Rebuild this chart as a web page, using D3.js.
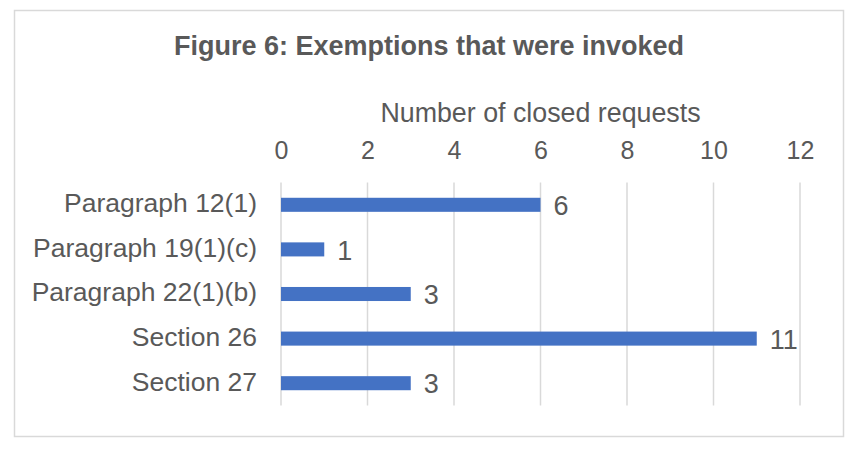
<!DOCTYPE html>
<html>
<head>
<meta charset="utf-8">
<script src="https://cdn.jsdelivr.net/npm/d3@7"></script>
<style>
  body { margin: 0; background: #fff; }
  svg { display: block; font-family: "Liberation Sans", Arial, sans-serif; }
</style>
</head>
<body>
<script>
const categories = ["Paragraph 12(1)", "Paragraph 19(1)(c)", "Paragraph 22(1)(b)", "Section 26", "Section 27"];
const closedRequests = [6, 1, 3, 11, 3];
const xTicks = [0, 2, 4, 6, 8, 10, 12];

const W = 856, H = 450;
const plot = { left: 281, right: 800, top: 182.5, bottom: 405.5 };
const textColor = "#595959";

const svg = d3.select("body").append("svg")
  .attr("width", W)
  .attr("height", H);

// chart area border
svg.append("rect")
  .attr("x", 14.5).attr("y", 10.5)
  .attr("width", 829).attr("height", 426)
  .attr("fill", "#fff")
  .attr("stroke", "#d9d9d9")
  .attr("stroke-width", 1.5);

svg.append("text")
  .attr("x", 429).attr("y", 55)
  .attr("text-anchor", "middle")
  .attr("fill", textColor)
  .attr("font-size", 27)
  .attr("font-weight", "bold")
  .text("Figure 6: Exemptions that were invoked");

const x = d3.scaleLinear()
  .domain([0, 12])
  .range([plot.left, plot.right]);

const y = d3.scaleBand()
  .domain(categories)
  .range([plot.top, plot.bottom])
  .paddingInner(0.685)
  .paddingOuter(0.3425);

// vertical gridlines
svg.append("g")
  .selectAll("line")
  .data(xTicks)
  .join("line")
  .attr("x1", d => x(d)).attr("x2", d => x(d))
  .attr("y1", plot.top).attr("y2", plot.bottom)
  .attr("stroke", "#d9d9d9")
  .attr("stroke-width", 1.5);

// top axis labels
svg.append("g")
  .attr("transform", `translate(0,${plot.top})`)
  .call(d3.axisTop(x).tickValues(xTicks).tickSize(0).tickPadding(23.5))
  .call(g => g.select(".domain").remove())
  .call(g => g.selectAll("text")
    .attr("fill", textColor)
    .attr("font-size", 25)
    .attr("font-family", null));

svg.append("text")
  .attr("x", (plot.left + plot.right) / 2).attr("y", 122)
  .attr("text-anchor", "middle")
  .attr("fill", textColor)
  .attr("font-size", 26.8)
  .text("Number of closed requests");

// category axis
svg.append("g")
  .attr("transform", `translate(${plot.left},0)`)
  .call(d3.axisLeft(y).tickSize(0).tickPadding(24))
  .call(g => g.select(".domain").remove())
  .call(g => g.selectAll("text")
    .attr("fill", textColor)
    .attr("font-size", 26.5)
    .attr("font-family", null)
    .attr("dy", "0.28em"));

// bars
svg.append("g")
  .attr("fill", "#4472c4")
  .selectAll("rect")
  .data(categories)
  .join("rect")
  .attr("x", x(0))
  .attr("y", d => y(d))
  .attr("width", (d, i) => x(closedRequests[i]) - x(0))
  .attr("height", y.bandwidth());

// value labels
svg.append("g")
  .selectAll("text")
  .data(categories)
  .join("text")
  .attr("x", (d, i) => x(closedRequests[i]) + 13)
  .attr("y", d => y(d) + y.bandwidth() / 2)
  .attr("dy", "0.38em")
  .attr("fill", textColor)
  .attr("font-size", 27)
  .text((d, i) => closedRequests[i]);
</script>
</body>
</html>
